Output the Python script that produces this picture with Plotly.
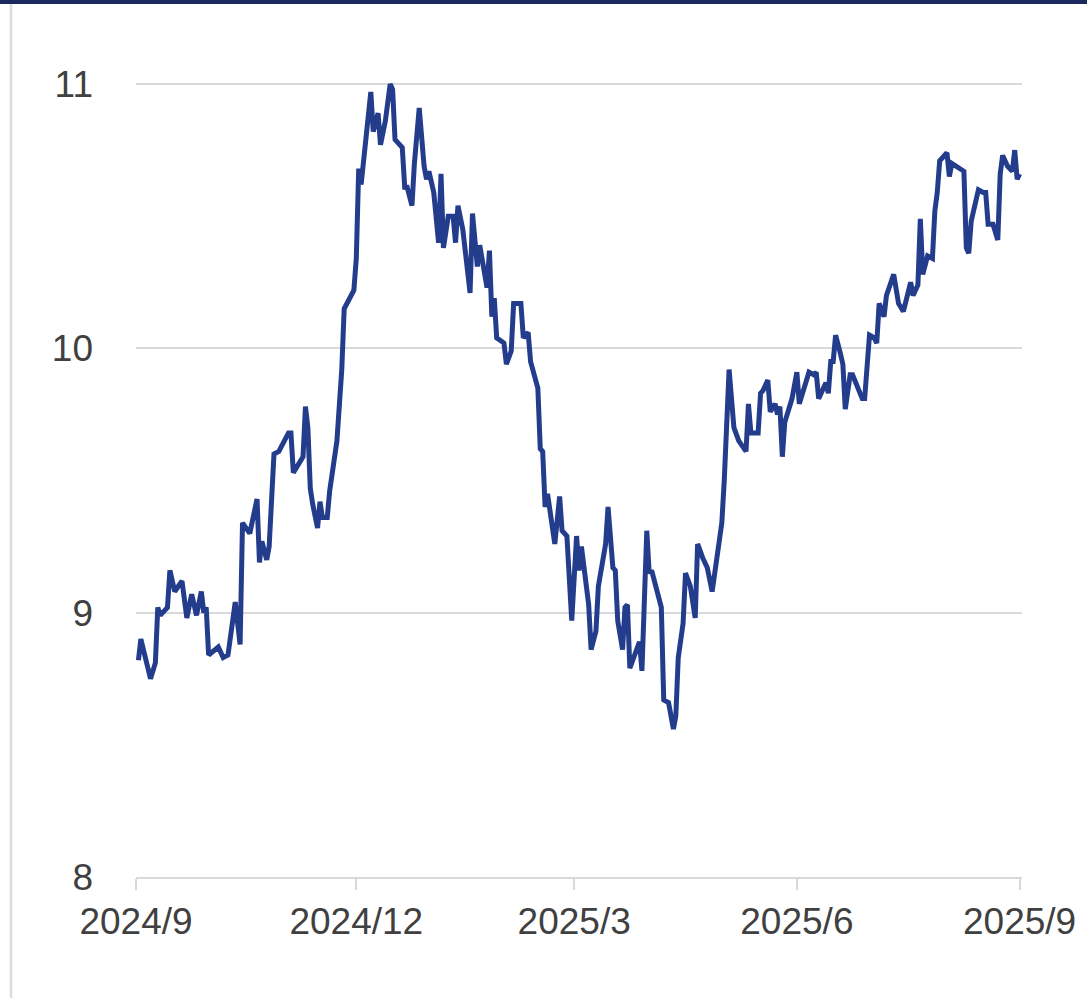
import plotly.graph_objects as go

dates = [
"2024-09-02","2024-09-03","2024-09-07","2024-09-09","2024-09-10","2024-09-11","2024-09-14","2024-09-15",
"2024-09-17","2024-09-20","2024-09-22","2024-09-24","2024-09-26","2024-09-28","2024-09-29","2024-09-30",
"2024-10-01","2024-10-05","2024-10-07","2024-10-09","2024-10-12","2024-10-14","2024-10-15","2024-10-18",
"2024-10-21","2024-10-22","2024-10-23","2024-10-25","2024-10-26","2024-10-28","2024-10-30","2024-11-03",
"2024-11-04","2024-11-05","2024-11-09","2024-11-10","2024-11-11","2024-11-12","2024-11-13","2024-11-15",
"2024-11-16","2024-11-17","2024-11-19","2024-11-20","2024-11-23","2024-11-25","2024-11-26","2024-11-30",
"2024-12-01","2024-12-02","2024-12-03","2024-12-05","2024-12-07","2024-12-08","2024-12-10","2024-12-11",
"2024-12-13","2024-12-15","2024-12-16","2024-12-17","2024-12-20","2024-12-21","2024-12-22","2024-12-24",
"2024-12-25","2024-12-27","2024-12-29","2024-12-30","2024-12-31","2025-01-02","2025-01-04","2025-01-05",
"2025-01-06","2025-01-08","2025-01-10","2025-01-11","2025-01-12","2025-01-14","2025-01-17","2025-01-18",
"2025-01-20","2025-01-21","2025-01-24","2025-01-25","2025-01-26","2025-01-27","2025-01-28","2025-01-31",
"2025-02-01","2025-02-03","2025-02-04","2025-02-07","2025-02-08","2025-02-10","2025-02-11","2025-02-14",
"2025-02-15","2025-02-16","2025-02-17","2025-02-18","2025-02-21","2025-02-23","2025-02-24","2025-02-26",
"2025-02-28","2025-03-02","2025-03-03","2025-03-04","2025-03-07","2025-03-08","2025-03-10","2025-03-11",
"2025-03-14","2025-03-15","2025-03-17","2025-03-18","2025-03-19","2025-03-21","2025-03-22","2025-03-23",
"2025-03-24","2025-03-28","2025-03-29","2025-03-31","2025-04-01","2025-04-02","2025-04-06","2025-04-07",
"2025-04-09","2025-04-11","2025-04-12","2025-04-13","2025-04-15","2025-04-16","2025-04-18","2025-04-20",
"2025-04-21","2025-04-23","2025-04-25","2025-04-27","2025-04-29","2025-05-01","2025-05-02","2025-05-04",
"2025-05-06","2025-05-08","2025-05-11","2025-05-12","2025-05-13","2025-05-16","2025-05-17","2025-05-18",
"2025-05-20","2025-05-21","2025-05-23","2025-05-24","2025-05-25","2025-05-26","2025-05-27","2025-05-30",
"2025-06-01","2025-06-02","2025-06-04","2025-06-06","2025-06-08","2025-06-09","2025-06-10","2025-06-12",
"2025-06-13","2025-06-14","2025-06-15","2025-06-16","2025-06-17","2025-06-19","2025-06-20","2025-06-21",
"2025-06-23","2025-06-24","2025-06-26","2025-06-28","2025-06-29","2025-06-30","2025-07-01","2025-07-03",
"2025-07-04","2025-07-05","2025-07-07","2025-07-08","2025-07-11","2025-07-13","2025-07-15","2025-07-18",
"2025-07-19","2025-07-21","2025-07-22","2025-07-23","2025-07-24","2025-07-25","2025-07-27","2025-07-28",
"2025-07-29","2025-07-30","2025-08-02","2025-08-03","2025-08-04","2025-08-06","2025-08-09","2025-08-10",
"2025-08-11","2025-08-12","2025-08-15","2025-08-17","2025-08-18","2025-08-19","2025-08-21","2025-08-23",
"2025-08-24","2025-08-25","2025-08-27","2025-08-29","2025-08-30","2025-08-31","2025-09-01",
]

values = [
8.82,8.90,8.75,8.81,9.02,8.99,9.02,9.16,
9.08,9.12,8.98,9.07,8.99,9.08,9.00,9.02,
8.84,8.87,8.83,8.84,9.04,8.88,9.34,9.30,
9.43,9.19,9.27,9.20,9.25,9.60,9.61,9.68,
9.68,9.53,9.59,9.78,9.70,9.47,9.41,9.32,
9.42,9.36,9.36,9.46,9.65,9.92,10.15,10.22,
10.34,10.68,10.62,10.80,10.97,10.82,10.89,10.77,
10.86,11.00,10.98,10.79,10.76,10.61,10.61,10.54,
10.70,10.91,10.69,10.64,10.67,10.59,10.40,10.66,
10.38,10.50,10.50,10.40,10.54,10.45,10.21,10.51,
10.31,10.39,10.23,10.37,10.12,10.19,10.04,10.02,
9.94,9.99,10.17,10.17,10.04,10.06,9.95,9.85,
9.62,9.61,9.40,9.45,9.26,9.44,9.31,9.29,
8.97,9.29,9.16,9.25,9.03,8.86,8.93,9.10,
9.26,9.40,9.17,9.16,8.97,8.86,9.02,9.03,
8.79,8.89,8.78,9.31,9.15,9.16,9.02,8.67,
8.66,8.56,8.61,8.83,8.96,9.15,9.10,8.98,
9.26,9.21,9.17,9.08,9.21,9.34,9.50,9.92,
9.70,9.65,9.61,9.79,9.68,9.68,9.83,9.84,
9.88,9.76,9.79,9.75,9.78,9.59,9.72,9.81,
9.91,9.79,9.85,9.91,9.90,9.91,9.81,9.85,
9.87,9.83,9.95,9.95,10.05,9.98,9.94,9.77,
9.90,9.90,9.85,9.81,9.81,9.91,10.05,10.04,
10.02,10.17,10.12,10.20,10.28,10.17,10.14,10.25,
10.20,10.24,10.49,10.28,10.31,10.35,10.34,10.52,
10.59,10.71,10.74,10.65,10.70,10.69,10.67,10.38,
10.36,10.48,10.60,10.59,10.59,10.47,10.47,10.41,
10.66,10.73,10.69,10.67,10.75,10.64,10.66,
]

x_tick_vals = ["2024-09-01", "2024-12-01", "2025-03-01", "2025-06-01", "2025-09-01"]
x_tick_text = ["2024/9", "2024/12", "2025/3", "2025/6", "2025/9"]
y_tick_vals = [8, 9, 10, 11]
y_tick_text = ["8", "9", "10", "11"]

LINE = "#233d8c"
GRID = "#d9d9d9"
TEXT = "#404040"
FONT = "Liberation Sans, Arial, sans-serif"

W, H = 1087, 998
ML, MR, MT, MB = 136, 65, 40, 121
pw = W - ML - MR
ph = H - MT - MB

def px_x(p):
    return (p - ML) / pw

def px_y(p):
    return (H - MB - p) / ph

fig = go.Figure()
fig.add_trace(go.Scatter(
    x=dates, y=values, mode="lines",
    line=dict(color=LINE, width=5, shape="linear"),
    hoverinfo="skip", showlegend=False,
))

fig.update_layout(
    width=W, height=H,
    margin=dict(l=ML, r=MR, t=MT, b=MB, autoexpand=False),
    paper_bgcolor="white", plot_bgcolor="white",
    font=dict(family=FONT, size=37, color=TEXT),
    showlegend=False,
    xaxis=dict(
        type="date",
        range=["2024-09-01", "2025-09-02"],
        tickmode="array", tickvals=x_tick_vals, ticktext=x_tick_text,
        ticks="outside", ticklen=11, tickwidth=2, tickcolor=GRID,
        showline=True, linecolor=GRID, linewidth=2,
        showgrid=False, zeroline=False,
        ticklabelstandoff=0,
        tickfont=dict(family=FONT, size=37, color=TEXT),
    ),
    yaxis=dict(
        range=[8, 11.1667],
        tickmode="array", tickvals=y_tick_vals, ticktext=y_tick_text,
        ticks="", showline=False, zeroline=False,
        showgrid=True, gridcolor=GRID, gridwidth=2,
        ticklabelstandoff=42,
        tickfont=dict(family=FONT, size=37, color=TEXT),
    ),
    shapes=[
        dict(type="rect", xref="paper", yref="paper",
             x0=px_x(0), x1=px_x(W), y0=px_y(4), y1=px_y(-2),
             fillcolor="#1b2a5e", line=dict(width=0), layer="above"),
        dict(type="line", xref="paper", yref="paper",
             x0=px_x(11), x1=px_x(11), y0=px_y(4), y1=px_y(H + 2),
             line=dict(color="#dcdcdc", width=2.5), layer="above"),
    ],
)

fig.write_html("out.html")
